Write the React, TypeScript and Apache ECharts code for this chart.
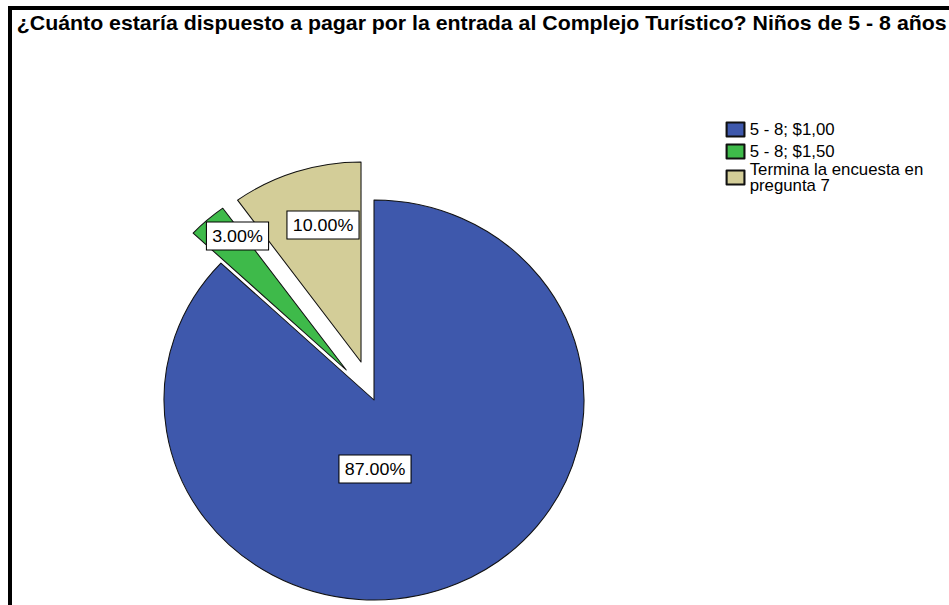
import React, { useEffect, useRef } from "react";
import * as echarts from "echarts";

const titleText =
  "¿Cuánto estaría dispuesto a pagar por la entrada al Complejo Turístico? Niños de 5 - 8 años";
const categories = ["5 - 8; $1,00", "5 - 8; $1,50", "Termina la encuesta en\npregunta 7"];
const values = [87, 3, 10];
const exploded = [false, true, true];
const colors = ["#3E58AC", "#3EBA4A", "#D3CD98"];

// layout-only settings (not data)
const SX = 1.05;
const W = 949 / SX;
const H = 605;
const labelCenters: [number, number][] = [
  [375 / SX, 469],
  [237.5 / SX, 236],
  [323 / SX, 225],
];
const legendTops = [121.5, 143.5, 161.5];
const FONT = "'Liberation Sans', Arial, sans-serif";
const PIE_CENTER = [374 / SX, 400];

export default function App() {
  const ref = useRef<HTMLDivElement>(null);
  useEffect(() => {
    if (!ref.current) return;
    const chart = echarts.init(ref.current, undefined, { renderer: "svg" });
    const option: any = {
      animation: false,
      backgroundColor: "#ffffff",
      title: {
        text: titleText,
        left: 16,
        top: 13,
        padding: 0,
        textStyle: { fontFamily: FONT, fontSize: 20.3, fontWeight: "bold", color: "#000" },
      },
      legend: categories.map((c, i) => ({
        data: [c],
        orient: "vertical",
        left: 691,
        top: legendTops[i],
        padding: 0,
        itemWidth: 17,
        itemHeight: 14,
        icon: "rect",
        selectedMode: false,
        textStyle: { fontFamily: FONT, fontSize: 16, lineHeight: 16, color: "#000" },
      })),
      series: [
        {
          type: "pie",
          center: PIE_CENTER,
          radius: [0, 200],
          startAngle: 90,
          clockwise: true,
          selectedMode: "multiple",
          selectedOffset: 40,
          emphasis: { disabled: true },
          itemStyle: { borderColor: "#111", borderWidth: 1 },
          label: { show: false },
          labelLine: { show: false },
          data: categories.map((c, i) => ({
            name: c,
            value: values[i],
            selected: exploded[i],
            itemStyle: { color: colors[i] },
          })),
        },
        {
          type: "pie",
          center: PIE_CENTER,
          radius: [0, 200],
          startAngle: 90,
          clockwise: true,
          silent: true,
          z: 3,
          emphasis: { disabled: true },
          itemStyle: { color: "rgba(0,0,0,0)", borderWidth: 0 },
          label: {
            show: true,
            position: "inside",
            formatter: (p: any) => p.value.toFixed(2) + "%",
            fontFamily: FONT,
            fontSize: 17,
            color: "#000",
            backgroundColor: "#fff",
            borderColor: "#000",
            borderWidth: 1,
            padding: [5, 5],
          },
          labelLayout: (p: any) => ({
            x: labelCenters[p.dataIndex][0],
            y: labelCenters[p.dataIndex][1],
            align: "center",
            verticalAlign: "middle",
          }),
          labelLine: { show: false },
          data: categories.map((c, i) => ({ name: c, value: values[i] })),
        },
      ],
    };
    chart.setOption(option);
    return () => chart.dispose();
  }, []);

  return (
    <div style={{ position: "fixed", left: 0, top: 0, width: 949, height: 605, background: "#fff", overflow: "hidden" }}>
      <div
        ref={ref}
        style={{
          position: "absolute",
          left: 0,
          top: 0,
          width: W,
          height: H,
          transform: `scaleX(${SX})`,
          transformOrigin: "0 0",
        }}
      />
      <div
        style={{
          position: "absolute",
          left: 8,
          top: 6,
          width: 949,
          height: 605,
          borderTop: "4px solid #000",
          borderLeft: "4px solid #000",
          pointerEvents: "none",
        }}
      />
    </div>
  );
}
